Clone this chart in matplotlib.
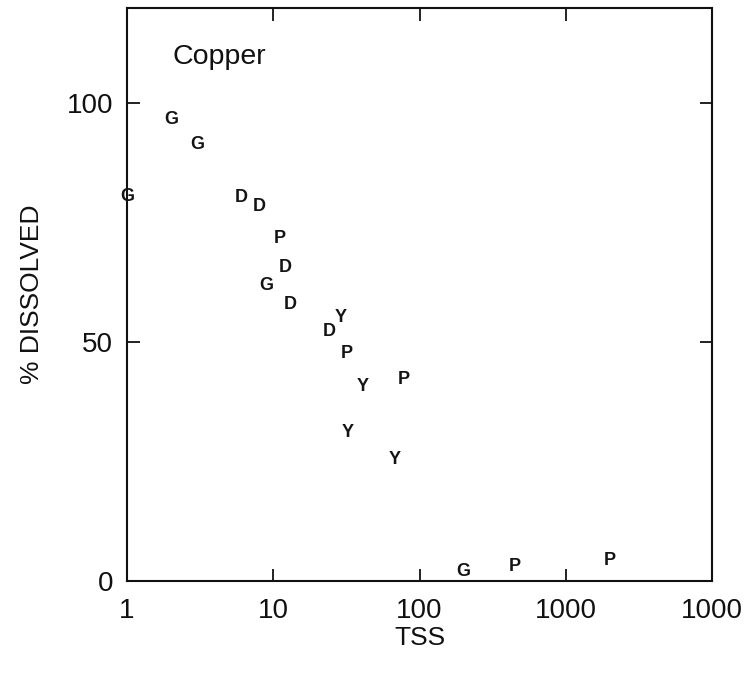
import matplotlib.pyplot as plt
from matplotlib.ticker import FixedLocator, FixedFormatter

plt.rcParams['font.family'] = ['Liberation Sans', 'DejaVu Sans']

# Copper: percent dissolved against total suspended solids, one letter per site
site = ['G', 'G', 'G', 'D', 'D', 'P', 'D', 'G', 'D', 'Y',
        'D', 'P', 'Y', 'P', 'Y', 'Y', 'G', 'P', 'P']
tss = [2.0, 3.0, 1.0, 6.0, 8.0, 11, 12, 9.0, 13, 29,
       24, 32, 41, 78, 32, 68, 200, 450, 2000]
dissolved = [96.7, 91.4, 80.5, 80.3, 78.5, 71.8, 65.7, 61.9, 57.9, 55.2,
             52.3, 47.7, 40.8, 42.3, 31.2, 25.5, 2.1, 3.1, 4.4]

x_ticks = [1, 10, 100, 1000, 10000]
x_tick_labels = ['1', '10', '100', '1000', '1000']
y_ticks = [0, 50, 100]

fig = plt.figure(figsize=(7.53, 6.81), dpi=100)
ax = fig.add_axes([0.1687, 0.1468, 0.7769, 0.8415])

ax.set_xscale('log')
ax.set_xlim(1, 10000)
ax.set_ylim(0, 120)

for s, x, y in zip(site, tss, dissolved):
    ax.text(x, y, s, ha='center', va='center', fontsize=13,
            fontweight='bold', color='#141414')

ax.xaxis.set_major_locator(FixedLocator(x_ticks))
ax.xaxis.set_major_formatter(FixedFormatter(x_tick_labels))
ax.xaxis.set_minor_locator(FixedLocator([]))
ax.set_yticks(y_ticks)

for side in ax.spines.values():
    side.set_linewidth(1.5)
    side.set_color('#111111')

ax.tick_params(which='major', direction='in', length=9, width=1.3,
               top=True, right=True, labelsize=20, colors='#111111')
ax.tick_params(axis='x', pad=12)
ax.tick_params(axis='y', pad=10)

ax.text(0.078, 0.9145, 'Copper', transform=ax.transAxes, fontsize=20.5,
        ha='left', va='center', color='#111111')

ax.set_xlabel('TSS', fontsize=19, labelpad=2, color='#111111')
ax.set_ylabel('% DISSOLVED', fontsize=19, labelpad=16, color='#111111')

fig.savefig('out.png', dpi=100, facecolor='white')
